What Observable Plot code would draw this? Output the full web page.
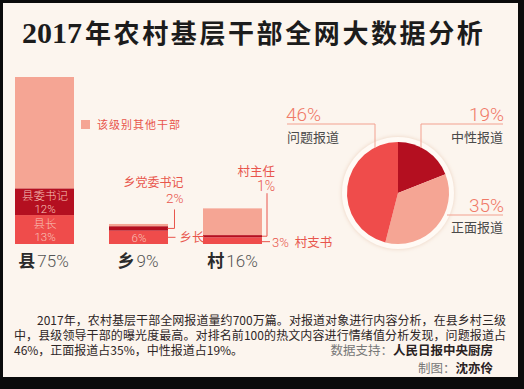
<!DOCTYPE html>
<html><head><meta charset="utf-8">
<script src="https://cdn.jsdelivr.net/npm/d3@7"></script>
<script src="https://cdn.jsdelivr.net/npm/@observablehq/plot@0.6"></script>
<style>
html,body{margin:0;padding:0;background:#0b0b0b;}
#page{position:relative;width:524px;height:389px;overflow:hidden;background:#0b0b0b;font-family:"Noto Sans CJK SC",sans-serif;}
#paper{position:absolute;left:3px;top:3px;width:515px;height:374px;background:#fcf5ee;}
#title{position:absolute;left:22px;top:17px;font-size:26px;font-weight:700;color:#1c1c1c;white-space:nowrap;line-height:30px;letter-spacing:2.6px;}
#title .num{font-family:"Liberation Serif",serif;font-size:30px;letter-spacing:0;margin-right:3px;}
#chart{position:absolute;left:0;top:0;}
#caption{position:absolute;left:14px;top:312px;width:492px;font-size:12px;line-height:15px;color:#2e2626;}
#caption .l{display:block;white-space:nowrap;text-align:justify;text-align-last:justify;height:15px;overflow:visible;}
#caption .l1{padding-left:23px;}
#caption .row3{display:flex;justify-content:space-between;white-space:nowrap;height:15px;}
#caption .src{font-size:12.5px;margin-right:13px;}
#caption .src b,#caption .mk b{color:#2a2222;font-weight:700;}
#caption .src span,#caption .mk span{color:#777;}
#caption .mk{display:block;text-align:right;padding-right:13px;font-size:12.5px;margin-top:3px;line-height:15px;}
</style></head>
<body>
<div id="page">
  <div id="paper"></div>
  <div id="title"></div>
  <div id="chart"></div>
  <div id="caption"></div>
</div>
<script>
// ---- data ----
const titleYear = "2017";
const titleRest = "年农村基层干部全网大数据分析";
const levels = ["县", "乡", "村"];
const levelTotals = [75, 9, 16];
const leaderNames = ["县长", "乡长", "村支书"];
const leaderValues = [13, 6, 3];
const secretaryNames = ["县委书记", "乡党委书记", "村主任"];
const secretaryValues = [12, 2, 1];
const otherLabel = "该级别其他干部";
const sentimentNames = ["中性报道", "正面报道", "问题报道"];
const sentimentValues = [19, 35, 46];
const captionLines = [
  "2017年，农村基层干部全网报道量约700万篇。对报道对象进行内容分析，在县乡村三级",
  "中，县级领导干部的曝光度最高。对排名前100的热文内容进行情绪值分析发现，问题报道占",
  "46%，正面报道占35%，中性报道占19%。"
];
const sourceLabel = "数据支持：";
const sourceName = "人民日报中央厨房";
const makerLabel = "制图：";
const makerName = "沈亦伶";

// ---- colours ----
const RED = "#ef4c4b", DARK = "#b40f20", LIGHT = "#f5a594";
const ANNO = "#e8554c", PIE_TXT = "#f07a68", LINE = "#f2a190";

document.getElementById("title").innerHTML = `<span class="num">${titleYear}</span>${titleRest}`;
document.getElementById("caption").innerHTML =
  `<span class="l l1">${captionLines[0]}</span>` +
  `<span class="l">${captionLines[1]}</span>` +
  `<div class="row3"><span>${captionLines[2]}</span><span class="src"><span>${sourceLabel}</span><b>${sourceName}</b></span></div>` +
  `<span class="mk"><span>${makerLabel}</span><b>${makerName}</b></span>`;

// ---- rows ----
const rows = [];
levels.forEach((lv, i) => {
  rows.push({level: lv, role: "leader", name: leaderNames[i], value: leaderValues[i]});
  rows.push({level: lv, role: "secretary", name: secretaryNames[i], value: secretaryValues[i]});
  rows.push({level: lv, role: "other", name: otherLabel, value: levelTotals[i] - leaderValues[i] - secretaryValues[i]});
});
const insideRows = rows.filter(d => d.level === levels[0] && d.role !== "other")
  .concat(rows.filter(d => d.level === levels[1] && d.role === "leader"));

const pieMark = () => {
  const g = d3.create("svg:g").attr("transform", "translate(398,193)");
  const defs = g.append("defs");
  const f = defs.append("filter").attr("id", "sh").attr("x", "-30%").attr("y", "-30%").attr("width", "160%").attr("height", "160%");
  f.append("feDropShadow").attr("dx", 0).attr("dy", 0).attr("stdDeviation", 2.2).attr("flood-color", "#e9cdb9").attr("flood-opacity", 0.9);
  g.append("circle").attr("r", 56).attr("fill", "#fffaf5").attr("filter", "url(#sh)");
  const arcs = d3.pie().sort(null).value(d => d)(sentimentValues);
  const arc = d3.arc().innerRadius(0).outerRadius(51);
  const cols = [DARK, LIGHT, RED];
  g.selectAll("path").data(arcs).join("path").attr("d", arc).attr("fill", (d, i) => cols[i]);
  return g.node();
};

const plot = Plot.plot({
  width: 524, height: 389,
  x: {domain: levels, range: [14, 262], paddingInner: 0.376, paddingOuter: 0, axis: null},
  y: {domain: [0, 75], range: [244, 77], axis: null},
  color: {domain: ["leader", "secretary", "other"], range: [RED, DARK, LIGHT]},
  style: {background: "transparent", overflow: "visible", fontFamily: "Roboto, 'Noto Sans CJK SC', sans-serif"},
  marks: [
    Plot.barY(rows, {x: "level", y: "value", fill: "role"}),
    Plot.text(insideRows, Plot.stackY({
      x: "level", y: "value",
      text: d => d.level === levels[0] ? `${d.name}\n${d.value}%` : `${d.value}%`,
      fill: "#f8c3b8", fontSize: 11.5, lineHeight: 1.13, fontWeight: 300
    })),
    pieMark
  ]
});
document.getElementById("chart").appendChild(plot);

// ---- annotations positioned via the plot's own scales ----
const xs = plot.scale("x"), ys = plot.scale("y");
const bx = d3.scaleBand().domain(xs.domain).range(xs.range).paddingInner(xs.paddingInner ?? 0.376).paddingOuter(xs.paddingOuter ?? 0).align(xs.align ?? 0.5);
const by = d3.scaleLinear().domain(ys.domain).range(ys.range);
const svg = d3.select(plot);
const A = svg.append("g").attr("font-family", "Roboto, 'Noto Sans CJK SC', sans-serif").attr("text-anchor", "start");

// bottom labels
levels.forEach((lv, i) => {
  const t = A.append("text").attr("x", bx(lv) + bx.bandwidth() / 2).attr("y", by(0) + 23)
    .attr("text-anchor", "middle").attr("font-size", 17);
  t.append("tspan").text(lv).attr("font-weight", 700).attr("fill", "#2b2b2b").attr("font-family", "'Noto Sans CJK SC'");
  t.append("tspan").text(levelTotals[i] + "%").attr("fill", "#555").attr("font-weight", 300).attr("dx", 2);
});

// legend
A.append("rect").attr("x", 81).attr("y", 120).attr("width", 9).attr("height", 9).attr("fill", LIGHT);
A.append("text").attr("x", 97).attr("y", 129).attr("font-size", 11).attr("fill", ANNO).attr("letter-spacing", 1).text(otherLabel);

const lineStyle = s => s.attr("fill", "none").attr("stroke", ANNO).attr("stroke-width", 1);

// 乡 annotations
{
  const lv = levels[1], r = bx(lv) + bx.bandwidth();
  const ySec = by(leaderValues[1] + secretaryValues[1] / 2);
  const yLead = by(leaderValues[1] / 2);
  lineStyle(A.append("path").attr("d", `M${r},${ySec}H${r + 7}V${ySec - 19}`));
  A.append("text").attr("x", r + 16).attr("y", ySec - 41).attr("text-anchor", "end").attr("font-size", 12).attr("fill", ANNO).text(secretaryNames[1]);
  A.append("text").attr("x", r + 16).attr("y", ySec - 25).attr("text-anchor", "end").attr("font-size", 13.5).attr("font-weight", 300).attr("fill", ANNO).text(secretaryValues[1] + "%");
  lineStyle(A.append("path").attr("d", `M${r},${yLead}H${r + 8}`));
  A.append("text").attr("x", r + 12).attr("y", yLead + 4.5).attr("font-size", 12.5).attr("fill", ANNO).text(leaderNames[1]);
}
// 村 annotations
{
  const lv = levels[2], r = bx(lv) + bx.bandwidth();
  const ySec = by(leaderValues[2] + secretaryValues[2] / 2);
  const yLead = by(leaderValues[2] / 2);
  lineStyle(A.append("path").attr("d", `M${r},${ySec}H${r + 5}V${ySec - 43}`));
  A.append("text").attr("x", r + 13).attr("y", ySec - 60).attr("text-anchor", "end").attr("font-size", 12.5).attr("fill", ANNO).text(secretaryNames[2]);
  A.append("text").attr("x", r + 13).attr("y", ySec - 45).attr("text-anchor", "end").attr("font-size", 14).attr("font-weight", 300).attr("fill", ANNO).text(secretaryValues[2] + "%");
  lineStyle(A.append("path").attr("d", `M${r},${yLead + 1}H${r + 8}`));
  const t = A.append("text").attr("x", r + 10).attr("y", yLead + 6).attr("font-size", 13).attr("fill", ANNO);
  t.append("tspan").text(leaderValues[2] + "%").attr("font-weight", 300);
  t.append("tspan").text(leaderNames[2]).attr("dx", 6).attr("font-size", 12.5);
}

// pie labels
const P = A.append("g");
const pl = (d) => P.append("path").attr("d", d).attr("fill", "none").attr("stroke", LINE).attr("stroke-width", 1);
pl("M287,124H375V148");
pl("M421,148V124H503");
pl("M447,215H503");
const pct = (x, y, anchor, v) => P.append("text").attr("x", x).attr("y", y).attr("text-anchor", anchor)
  .attr("font-size", 19).attr("font-weight", 300).attr("fill", PIE_TXT).text(v + "%");
const nm = (x, y, anchor, s) => P.append("text").attr("x", x).attr("y", y).attr("text-anchor", anchor)
  .attr("font-size", 13).attr("fill", "#4a4a4a").text(s);
pct(286, 121, "start", sentimentValues[2]); nm(287, 142, "start", sentimentNames[2]);
pct(504, 121, "end", sentimentValues[0]);   nm(503, 142, "end", sentimentNames[0]);
pct(504, 212, "end", sentimentValues[1]);   nm(503, 232, "end", sentimentNames[1]);
</script>
</body></html>
